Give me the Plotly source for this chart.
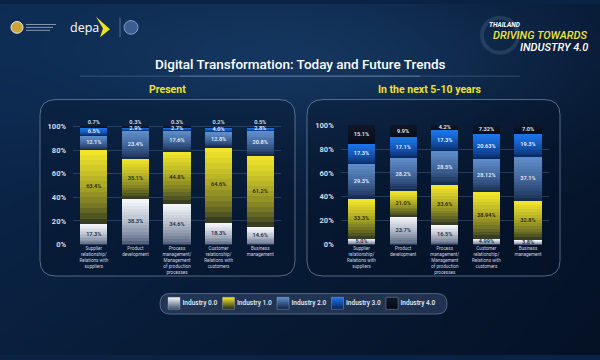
import zlib, struct, base64
import numpy as np
import plotly.graph_objects as go

# ---------------- data ----------------
categories = ["Supplier<br>relationship/<br>Relations with<br>suppliers",
              "Product<br>development",
              "Process<br>management/<br>Management<br>of production<br>processes",
              "Customer<br>relationship/<br>Relations with<br>customers",
              "Business<br>management"]
series_names = ["Industry 0.0", "Industry 1.0", "Industry 2.0", "Industry 3.0", "Industry 4.0"]

present_ind0 = [17.3, 38.3, 34.6, 18.3, 14.6]
present_ind1 = [63.4, 35.1, 44.8, 64.6, 61.2]
present_ind2 = [12.1, 23.4, 17.6, 12.8, 20.8]
present_ind3 = [6.5, 2.9, 2.7, 4.0, 2.8]
present_ind4 = [0.7, 0.3, 0.3, 0.2, 0.5]

future_ind0 = [5.0, 23.7, 16.5, 4.99, 3.8]
future_ind1 = [33.3, 21.0, 33.6, 38.94, 32.8]
future_ind2 = [29.3, 28.2, 28.5, 28.12, 37.1]
future_ind3 = [17.3, 17.1, 17.3, 20.63, 19.3]
future_ind4 = [15.1, 9.9, 4.2, 7.32, 7.0]

y_ticks = [0, 20, 40, 60, 80, 100]
y_tick_labels = ["0%", "20%", "40%", "60%", "80%", "100%"]

present = [present_ind0, present_ind1, present_ind2, present_ind3, present_ind4]
future = [future_ind0, future_ind1, future_ind2, future_ind3, future_ind4]

# ---------------- styles ----------------
W, H = 600, 360
grad_top = [(246, 248, 252), (246, 234, 42), (96, 142, 204), (28, 118, 238), (16, 22, 38)]
grad_bot = [(62, 78, 110), (30, 40, 32), (12, 32, 66), (8, 34, 84), (5, 10, 22)]
label_colors = ["#1c2c4c", "#2a2a14", "#e4ecf6", "#e8f0fa", "#e8eef8"]
NSLICE = 14
Y0_PX = 246.7          # pixel row of 0 %
LEFT_PX_PER_UNIT = 1.21
LEFT_YMAX = 105


def fmt(v):
    return (f"{v:.2f}" if abs(round(v, 1) - v) > 1e-9 else f"{v:.1f}") + "%"


def rgb(c):
    return "rgb(%d,%d,%d)" % tuple(c)


def mix(c0, c1, f):
    return "rgb(%d,%d,%d)" % tuple(round(a + (b - a) * f) for a, b in zip(c0, c1))


def png_uri(arr):
    h, w, _ = arr.shape
    raw = b"".join(b"\x00" + arr[i].tobytes() for i in range(h))

    def chunk(t, d):
        c = struct.pack(">I", len(d)) + t + d
        return c + struct.pack(">I", zlib.crc32(t + d) & 0xffffffff)
    png = (b"\x89PNG\r\n\x1a\n" + chunk(b"IHDR", struct.pack(">IIBBBBB", w, h, 8, 2, 0, 0, 0))
           + chunk(b"IDAT", zlib.compress(raw, 9)) + chunk(b"IEND", b""))
    return "data:image/png;base64," + base64.b64encode(png).decode()


# background gradient
gw, gh = 150, 90
xs = np.linspace(0, W, gw)[None, :]
ys = np.linspace(0, H, gh)[:, None]
base_l = np.array([12, 42, 82], float)
base_r = np.array([7, 24, 50], float)
hx = (xs / W)[..., None]
bg = base_l * (1 - hx) + base_r * hx
vy = (ys / H)[..., None]
bg = bg * (1 - 0.25 * vy)
glow = np.exp(-(((xs - 300) / 260) ** 2 + ((ys - 55) / 90) ** 2))[..., None]
bg = bg + (np.array([30, 72, 118], float) - bg) * glow * 0.55
bg_img = np.clip(bg, 0, 255).astype(np.uint8)


def px(x):
    return x / W


def py(y):
    return 1 - y / H


def rrect(x0, y0, x1, y1, r):
    rx, ry = r / W, r / H
    X0, X1, Y0, Y1 = px(x0), px(x1), py(y1), py(y0)
    return (f"M{X0+rx},{Y0} L{X1-rx},{Y0} Q{X1},{Y0} {X1},{Y0+ry} L{X1},{Y1-ry} Q{X1},{Y1} {X1-rx},{Y1} "
            f"L{X0+rx},{Y1} Q{X0},{Y1} {X0},{Y1-ry} L{X0},{Y0+ry} Q{X0},{Y0} {X0+rx},{Y0} Z")


fig = go.Figure()

panels = [(present, "x", "y", True), (future, "x2", "y2", False)]
for data, xa, ya, above in panels:
    cum = np.zeros(len(categories))
    for si, vals in enumerate(data):
        vals = np.array(vals, float)
        for k in range(NSLICE):
            t = (k + 0.5) / NSLICE
            f = t ** 0.65
            fig.add_trace(go.Bar(x=categories, y=vals / NSLICE, xaxis=xa, yaxis=ya,
                                 marker=dict(color=mix(grad_bot[si], grad_top[si], f), line=dict(width=0)),
                                 showlegend=False, hoverinfo="skip"))
        mids = cum + vals / 2
        tops = cum + vals
        if si == 4 and above:
            ty, tpos = tops + 1.2, "top center"
            tcol = "#d8e0ee"
        else:
            ty, tpos = mids, "middle center"
            tcol = label_colors[si]
        fig.add_trace(go.Scatter(x=categories, y=ty, xaxis=xa, yaxis=ya, mode="text",
                                 text=[fmt(v) for v in vals], textposition=tpos,
                                 textfont=dict(size=5.6, color=tcol, family="Roboto", weight=600),
                                 showlegend=False, hoverinfo="skip", cliponaxis=False))
        cum = tops

# legend (swatches + names) drawn as a scatter on its own hidden axes
fig.add_trace(go.Scatter(
    x=list(range(len(series_names))), y=[0] * len(series_names), xaxis="x3", yaxis="y3",
    mode="markers+text", text=series_names, textposition="middle right",
    textfont=dict(size=6.5, color="#dfe6f2", family="Roboto", weight=600),
    marker=dict(symbol="square", size=12, color=[rgb(c) for c in grad_top],
                gradient=dict(type="vertical", color=[rgb(c) for c in grad_bot]),
                line=dict(color="rgba(200,210,230,0.5)", width=0.6)),
    showlegend=False, hoverinfo="skip", cliponaxis=False))

axis_common = dict(showline=False, zeroline=False, ticks="", fixedrange=True)
ytick_font = dict(size=7.5, color="#d4dcea", family="Roboto", weight=700)
xtick_font = dict(size=4.6, color="#c8d2e4", family="Roboto")
grid_col = "rgba(95,125,175,0.35)"

shapes = [
    dict(type="path", path=rrect(40, 98, 295, 279, 16), xref="paper", yref="paper",
         line=dict(color="rgba(150,170,205,0.55)", width=1), fillcolor="rgba(4,14,34,0.28)", layer="below"),
    dict(type="path", path=rrect(307, 98, 560, 279, 16), xref="paper", yref="paper",
         line=dict(color="rgba(150,170,205,0.55)", width=1), fillcolor="rgba(4,14,34,0.28)", layer="below"),
    dict(type="path", path=rrect(160, 297, 447, 318, 10), xref="paper", yref="paper",
         line=dict(color="rgba(140,160,195,0.5)", width=1), fillcolor="rgba(55,75,108,0.55)", layer="below"),
    dict(type="line", x0=px(80), x1=px(520), y0=py(74), y1=py(74), xref="paper", yref="paper",
         line=dict(color="rgba(120,150,195,0.35)", width=1)),
    dict(type="line", x0=px(180), x1=px(420), y0=py(74), y1=py(74), xref="paper", yref="paper",
         line=dict(color="rgba(150,180,220,0.45)", width=1)),
    # logos
    dict(type="circle", x0=px(11), x1=px(23), y0=py(30), y1=py(18), xref="paper", yref="paper",
         fillcolor="#c9a434", line=dict(color="#f0f0f0", width=1)),
    dict(type="path", path=f"M{px(96)},{py(13)} L{px(110)},{py(26)} L{px(100)},{py(34)} L{px(103)},{py(25)} Z",
         xref="paper", yref="paper", fillcolor="#f4e022", line=dict(width=0)),
    dict(type="line", x0=px(120), x1=px(120), y0=py(14), y1=py(34), xref="paper", yref="paper",
         line=dict(color="rgba(150,170,205,0.5)", width=1)),
    dict(type="circle", x0=px(124), x1=px(138), y0=py(31), y1=py(17), xref="paper", yref="paper",
         fillcolor="#3b5e90", line=dict(color="#7f9ccc", width=1)),
    dict(type="circle", x0=px(482), x1=px(518), y0=py(50), y1=py(14), xref="paper", yref="paper",
         line=dict(color="rgba(120,140,175,0.22)", width=4)),
]
for i in range(3):
    shapes.append(dict(type="line", x0=px(26), x1=px(26 + 30 - i * 3), y0=py(21 + i * 3), y1=py(21 + i * 3),
                       xref="paper", yref="paper", line=dict(color="rgba(220,225,235,0.6)", width=1)))


def ann(text, x, y, size, color, xanchor="center", weight=400, family="Roboto"):
    return dict(text=text, x=px(x), y=py(y), xref="paper", yref="paper", showarrow=False,
                xanchor=xanchor, yanchor="middle",
                font=dict(size=size, color=color, family=family, weight=weight))


annotations = [
    ann("Digital Transformation: Today and Future Trends", 300, 62, 13.5, "#ffffff", weight=500),
    ann("Present", 167, 88, 10.5, "#f2e02a", weight=700),
    ann("In the next 5-10 years", 430, 88, 10.5, "#f2e02a", weight=700),
    ann("depa", 84, 24, 12.5, "#ffffff", family="Open Sans"),
    ann("<i>THAILAND</i>", 487, 22, 6.5, "#ffffff", xanchor="left", weight=700),
    ann("<i>DRIVING TOWARDS</i>", 590, 32, 11, "#efe33a", xanchor="right", weight=500),
    ann("<i>INDUSTRY 4.0</i>", 590, 45, 11, "#ffffff", xanchor="right", weight=500),
]

fig.update_layout(
    width=W, height=H, margin=dict(l=0, r=0, t=0, b=0),
    paper_bgcolor="#0a2244", plot_bgcolor="rgba(0,0,0,0)",
    barmode="stack", bargap=0.35,
    showlegend=False,
    xaxis=dict(domain=[px(73), px(281)], anchor="y", tickfont=xtick_font, showgrid=False, **axis_common),
    yaxis=dict(domain=[py(Y0_PX), py(Y0_PX - LEFT_YMAX * LEFT_PX_PER_UNIT)], anchor="x", range=[0, LEFT_YMAX],
               tickvals=y_ticks, ticktext=y_tick_labels, tickfont=ytick_font, showgrid=True, gridcolor=grid_col,
               gridwidth=1, ticklabelstandoff=6, **axis_common),
    xaxis2=dict(domain=[px(340.7), px(548.8)], anchor="y2", tickfont=xtick_font, showgrid=False, **axis_common),
    yaxis2=dict(domain=[py(Y0_PX), py(124.3)], anchor="x2", range=[0, 100], tickvals=y_ticks,
                ticktext=y_tick_labels, tickfont=ytick_font, showgrid=True, gridcolor=grid_col, gridwidth=1,
                ticklabelstandoff=6, **axis_common),
    xaxis3=dict(domain=[px(174), px(392)], anchor="y3", range=[0, 4], visible=False, fixedrange=True),
    yaxis3=dict(domain=[py(313), py(301)], anchor="x3", range=[-1, 1], visible=False, fixedrange=True),
    shapes=shapes,
    annotations=annotations,
    images=[dict(source=png_uri(bg_img), xref="paper", yref="paper", x=0, y=1, sizex=1, sizey=1,
                 sizing="stretch", layer="below", xanchor="left", yanchor="top")],
)

fig.write_html("out.html", config={"displayModeBar": False},
               post_script="document.body.style.margin='0';document.body.style.overflow='hidden';")
